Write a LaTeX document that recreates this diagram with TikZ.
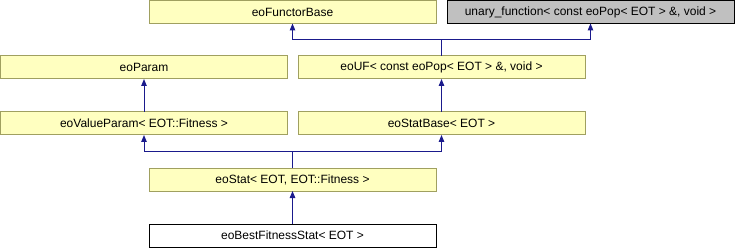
\documentclass[tikz,border=0pt]{standalone}
\usepackage{fontspec}
\setmainfont{Liberation Sans}
\usetikzlibrary{arrows.meta}
\definecolor{boxfill}{HTML}{FFFFC0}
\definecolor{boxline}{HTML}{A0A060}
\definecolor{grayfill}{HTML}{C0C0C0}
\definecolor{conncol}{HTML}{1A1A8C}
\tikzset{
  cls/.style={draw=boxline, fill=boxfill, line width=1pt, minimum width=287pt, minimum height=23pt,
    inner sep=0pt, outer sep=0pt, anchor=north west, font=\fontsize{12}{14}\selectfont},
  extcls/.style={cls, draw=black, fill=grayfill},
  curcls/.style={cls, draw=black, fill=white},
  conn/.style={draw=conncol, line width=1pt, -{Triangle[length=7pt,width=5.5pt]}},
  plain/.style={draw=conncol, line width=1pt}
}
\begin{document}
\begin{tikzpicture}[x=1pt,y=-1pt]
\useasboundingbox (0,0) rectangle (735,248);
\node[cls] (efb) at (149,0.5) {eoFunctorBase};
\node[extcls] (uf) at (447,0.5) {unary\_function< const eoPop< EOT > \&, void >};
\node[cls] (par) at (0.5,56) {eoParam};
\node[cls] (euf) at (298,56) {eoUF< const eoPop< EOT > \&, void >};
\node[cls] (vpar) at (0.5,112) {eoValueParam< EOT::Fitness >};
\node[cls] (sb) at (298,112) {eoStatBase< EOT >};
\node[cls] (st) at (149,168) {eoStat< EOT, EOT::Fitness >};
\node[curcls] (best) at (149,224) {eoBestFitnessStat< EOT >};
\coordinate (j1) at (euf.north |- 0,40);
\coordinate (j2) at (st.north |- 0,152);
\draw[plain] (euf.north) -- (j1);
\draw[conn] (j1) -| (efb.south);
\draw[conn] (j1) -| (uf.south);
\draw[conn] (vpar.north) -- (par.south);
\draw[conn] (sb.north) -- (euf.south);
\draw[plain] (st.north) -- (j2);
\draw[conn] (j2) -| (vpar.south);
\draw[conn] (j2) -| (sb.south);
\draw[conn] (best.north) -- (st.south);
\end{tikzpicture}
\end{document}
